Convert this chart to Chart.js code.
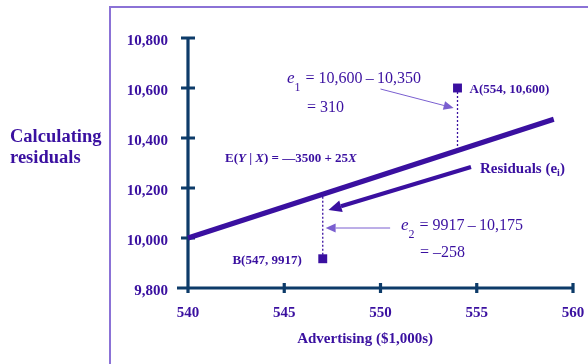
<!DOCTYPE html>
<html>
<head>
<meta charset="utf-8">
<script src="https://cdn.jsdelivr.net/npm/chart.js@4"></script>
<style>
  html, body { margin: 0; padding: 0; background: #fff; }
  #wrap { width: 588px; height: 364px; }
</style>
</head>
<body>
<div id="wrap"><canvas id="residuals-chart" width="588" height="364"></canvas></div>
<script>
// Advertising ($1,000s) on x, sales on y
const xTicks = [540, 545, 550, 555, 560];
const yTicks = [9800, 10000, 10200, 10400, 10600, 10800];

// Fitted line E(Y|X) = -3500 + 25X, read at both ends
const fitX = [540, 559];
const fitY = [10000, 10475];

// Observed points and the fitted value at each
const pointNames = ['A', 'B'];
const pointX = [554, 547];
const pointY = [10600, 9917];
const fittedY = [10350, 10175];

const serif = '"Liberation Serif", "Times New Roman", serif';
const ink = '#3a10a0';
const axisInk = '#0d3b69';
const frameInk = '#8b72d6';

// residual segments, one per observation
const residualSets = pointX.map((x, i) => ({
  type: 'line',
  data: [{ x: x, y: pointY[i] }, { x: x, y: fittedY[i] }],
  borderColor: ink,
  borderWidth: 1.3,
  borderDash: [2, 2],
  pointRadius: 0,
  clip: false
}));

// arrows are given in data units and placed through the scales
const arrows = [
  { from: [554.7, 10284], to: [547.3, 10112], width: 4, head: 13, half: 6 },
  { from: [550.0, 10596], to: [553.8, 10520], width: 1, head: 10, half: 4.5, color: '#7a5fd0' },
  { from: [550.5, 10040], to: [547.15, 10040], width: 1, head: 10, half: 4.5, color: '#7a5fd0' }
];

function drawRuns(ctx, x, y, parts) {
  for (const p of parts) {
    ctx.font = p.font;
    ctx.fillText(p.text, x + (p.dx || 0), y + (p.dy || 0));
    x += (p.dx || 0) + ctx.measureText(p.text).width + (p.gap || 0);
  }
}

function drawArrow(ctx, x1, y1, x2, y2, a) {
  const ang = Math.atan2(y2 - y1, x2 - x1);
  const bx = x2 - Math.cos(ang) * a.head;
  const by = y2 - Math.sin(ang) * a.head;
  ctx.strokeStyle = a.color || ink;
  ctx.fillStyle = a.color || ink;
  ctx.lineWidth = a.width;
  ctx.beginPath();
  ctx.moveTo(x1, y1);
  ctx.lineTo(bx, by);
  ctx.stroke();
  ctx.beginPath();
  ctx.moveTo(x2, y2);
  ctx.lineTo(bx + Math.sin(ang) * a.half, by - Math.cos(ang) * a.half);
  ctx.lineTo(bx - Math.sin(ang) * a.half, by + Math.cos(ang) * a.half);
  ctx.closePath();
  ctx.fill();
}

const axesPlugin = {
  id: 'crossAxes',
  beforeDatasetsDraw(chart) {
    const { ctx, chartArea: ca, scales: { x, y } } = chart;
    ctx.save();
    // slide frame
    ctx.strokeStyle = frameInk;
    ctx.lineWidth = 2;
    ctx.beginPath();
    ctx.moveTo(110, 364);
    ctx.lineTo(110, 7);
    ctx.lineTo(588, 7);
    ctx.stroke();

    ctx.strokeStyle = axisInk;
    ctx.lineWidth = 3.2;
    ctx.beginPath();
    ctx.moveTo(ca.left, ca.top);
    ctx.lineTo(ca.left, ca.bottom + 5);
    ctx.moveTo(ca.left - 11, ca.bottom);
    ctx.lineTo(ca.right, ca.bottom);
    x.ticks.forEach(t => {
      const px = x.getPixelForValue(t.value);
      ctx.moveTo(px, ca.bottom - 5);
      ctx.lineTo(px, ca.bottom + 5);
    });
    y.ticks.forEach(t => {
      const py = y.getPixelForValue(t.value);
      ctx.moveTo(ca.left - 7, py);
      ctx.lineTo(ca.left + 7, py);
    });
    ctx.stroke();
    ctx.restore();
  },
  afterDraw(chart) {
    const { ctx, chartArea: ca, scales: { x, y } } = chart;
    const px = v => x.getPixelForValue(v);
    const py = v => y.getPixelForValue(v);
    ctx.save();

    arrows.forEach(a => drawArrow(ctx, px(a.from[0]), py(a.from[1]), px(a.to[0]), py(a.to[1]), a));

    ctx.fillStyle = ink;
    ctx.textBaseline = 'alphabetic';

    // side heading
    ctx.font = `bold 18.5px ${serif}`;
    ctx.fillText('Calculating', 10, 142);
    ctx.fillText('residuals', 10, 163);

    // point labels
    ctx.font = `bold 13px ${serif}`;
    ctx.textAlign = 'left';
    ctx.fillText(`${pointNames[0]}(${pointX[0]}, ${pointY[0].toLocaleString('en-US')})`,
      px(pointX[0]) + 12, py(pointY[0]) + 5);
    ctx.textAlign = 'right';
    ctx.fillText(`${pointNames[1]}(${pointX[1]}, ${pointY[1]})`,
      px(pointX[1]) - 21, py(pointY[1]) + 5);
    ctx.textAlign = 'left';

    // regression equation
    const b = `bold 13px ${serif}`, bi = `bold italic 13px ${serif}`;
    drawRuns(ctx, px(541.92), py(10304), [
      { text: 'E(', font: b }, { text: 'Y', font: bi }, { text: ' | ', font: b },
      { text: 'X', font: bi }, { text: ') = \u20143500 + 25', font: b }, { text: 'X', font: bi }
    ]);

    // residuals pointer label
    const b15 = `bold 15px ${serif}`;
    drawRuns(ctx, px(555.17), py(10260), [
      { text: 'Residuals (e', font: b15 },
      { text: 'i', font: `bold 10px ${serif}`, dy: 3 },
      { text: ')', font: b15 }
    ]);

    // residual workings
    const r16 = `16px ${serif}`, e16 = `italic 17px ${serif}`, s12 = `12px ${serif}`;
    let ex = px(545.14), ey = py(10620);
    drawRuns(ctx, ex, ey, [
      { text: 'e', font: e16 }, { text: '1', font: s12, dy: 8, gap: 5 },
      { text: `= ${pointY[0].toLocaleString('en-US')}\u2009\u2013\u2009${fittedY[0].toLocaleString('en-US')}`, font: r16 }
    ]);
    ctx.font = r16;
    ctx.fillText('= 310', ex + 20, ey + 29);

    ex = px(551.06); ey = py(10032);
    drawRuns(ctx, ex, ey, [
      { text: 'e', font: e16 }, { text: '2', font: s12, dy: 8, gap: 5 },
      { text: `= ${pointY[1]}\u2009\u2013\u2009${fittedY[1].toLocaleString('en-US')}`, font: r16 }
    ]);
    ctx.font = r16;
    ctx.fillText('= \u2013258', ex + 19, ey + 27);

    // x axis title
    ctx.font = `bold 15px ${serif}`;
    ctx.textAlign = 'center';
    ctx.fillText('Advertising ($1,000s)', px(549.2), ca.bottom + 55);
    ctx.restore();
  }
};

const ctx = document.getElementById('residuals-chart').getContext('2d');

const residualChart = new Chart(ctx, {
  type: 'scatter',
  data: {
    datasets: [
      {
        type: 'line',
        data: fitX.map((x, i) => ({ x: x, y: fitY[i] })),
        borderColor: ink,
        borderWidth: 5,
        borderCapStyle: 'butt',
        pointRadius: 0,
        clip: false
      },
      ...residualSets,
      {
        data: pointX.map((x, i) => ({ x: x, y: pointY[i] })),
        pointStyle: 'rect',
        pointRadius: 6.3,
        backgroundColor: ink,
        borderColor: ink,
        borderWidth: 0,
        clip: false
      }
    ]
  },
  options: {
    responsive: false,
    animation: false,
    layout: { padding: { top: 38, right: 0, bottom: 0, left: 0 } },
    plugins: {
      legend: { display: false },
      tooltip: { enabled: false }
    },
    scales: {
      x: {
        type: 'linear',
        min: xTicks[0],
        max: xTicks[xTicks.length - 1],
        afterBuildTicks: s => { s.ticks = xTicks.map(v => ({ value: v })); },
        afterFit: s => {
          s.height = 76;
          s.paddingLeft = 0;
          s.paddingRight = 15;
        },
        grid: { display: false, drawTicks: false },
        border: { display: false },
        ticks: {
          padding: 16,
          color: ink,
          font: { family: serif, size: 15, weight: 'bold' }
        }
      },
      y: {
        type: 'linear',
        min: yTicks[0],
        max: yTicks[yTicks.length - 1],
        afterBuildTicks: s => { s.ticks = yTicks.map(v => ({ value: v })); },
        afterFit: s => { s.width = 188; },
        grid: { display: false, drawTicks: false },
        border: { display: false },
        ticks: {
          padding: 20,
          labelOffset: 3,
          color: ink,
          font: { family: serif, size: 15, weight: 'bold' },
          callback: v => v.toLocaleString('en-US')
        }
      }
    }
  },
  plugins: [axesPlugin]
});
</script>
</body>
</html>
